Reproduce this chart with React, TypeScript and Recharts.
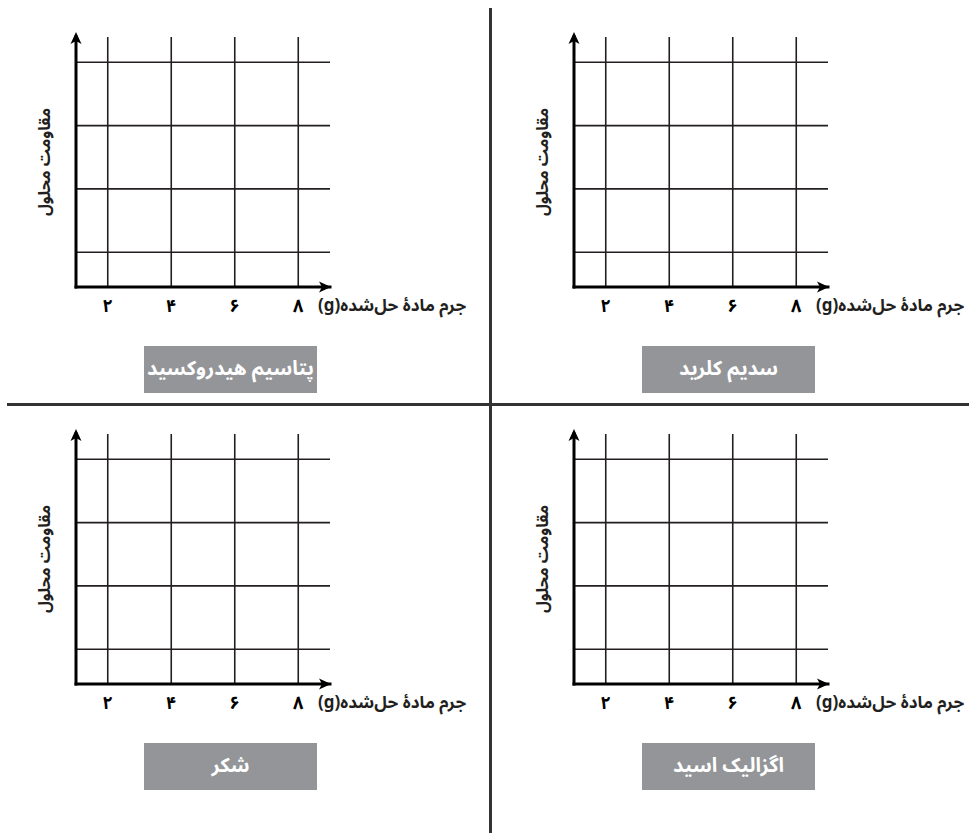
import React from 'react';
import { LineChart, Line, XAxis, YAxis, CartesianGrid, ReferenceDot, Label } from 'recharts';

// ---- data ----
const xTicks = [2, 4, 6, 8];
const yTicks = [1, 2, 3, 4];
const xDomain: [number, number] = [1, 9];
const yDomain: [number, number] = [0.45, 4.4];
const panelTitles = ['پتاسیم هیدروکسید', 'سدیم کلرید', 'شکر', 'اگزالیک اسید'];
const xAxisTitle = 'جرم مادهٔ حل\u200cشده(g)';
const yAxisTitle = 'مقاومت محلول';
const measuredPoints: { x: number; y: number }[] = [];
const persianDigits = '۰۱۲۳۴۵۶۷۸۹';

const toPersian = (v: number) =>
  String(v).replace(/[0-9]/g, (d) => persianDigits[Number(d)]);

const FONT = '"Noto Sans Arabic", "Noto Naskh Arabic", "DejaVu Sans", sans-serif';
const INK = '#231f20';

const EmptyTick = () => <g />;

const UpArrow = (props: any) => {
  const { cx, cy } = props;
  const tip = cy - 5;
  return (
    <path
      d={`M${cx},${tip} L${cx - 5.5},${tip + 12} L${cx},${tip + 9} L${cx + 5.5},${tip + 12} Z`}
      fill="#000"
    />
  );
};

const RightArrow = (props: any) => {
  const { cx, cy } = props;
  const tip = cx + 1;
  return (
    <path
      d={`M${tip},${cy} L${tip - 12},${cy - 5.5} L${tip - 9},${cy} L${tip - 12},${cy + 5.5} Z`}
      fill="#000"
    />
  );
};

const XTitle = (props: any) => {
  const vb = props.viewBox || {};
  return (
    <text
      x={vb.x + vb.width - 12}
      y={vb.y + 24}
      direction="rtl"
      textAnchor="end"
      fontFamily={FONT}
      fontWeight={700}
      fontSize={17}
      fill={INK}
    >
      {xAxisTitle}
    </text>
  );
};

const YTitle = (props: any) => {
  const vb = props.viewBox || {};
  const cx = vb.x + vb.width - 31;
  const cy = vb.y + vb.height / 2;
  return (
    <text
      x={cx}
      y={cy}
      transform={`rotate(-90, ${cx}, ${cy})`}
      direction="rtl"
      textAnchor="middle"
      dominantBaseline="central"
      fontFamily={FONT}
      fontWeight={700}
      fontSize={16}
      fill={INK}
    >
      {yAxisTitle}
    </text>
  );
};

const Panel = ({ title, ox, oy }: { title: string; ox: number; oy: number }) => (
  <div style={{ position: 'absolute', left: ox, top: oy, width: 490, height: 404 }}>
    <LineChart
      width={490}
      height={404}
      data={measuredPoints}
      margin={{ top: 37, right: 160, bottom: 87, left: 75 }}
    >
      <CartesianGrid
        stroke={INK}
        strokeWidth={1.6}
        fill="none"
        syncWithTicks
        horizontalValues={yTicks}
        verticalValues={xTicks}
      />
      <XAxis
        type="number"
        dataKey="x"
        domain={xDomain}
        ticks={xTicks}
        interval={0}
        allowDataOverflow
        height={30}
        tickLine={false}
        tickMargin={6}
        axisLine={{ stroke: '#000', strokeWidth: 3, strokeLinecap: 'square' }}
        tick={{ fill: '#000', fontSize: 18, fontWeight: 700, fontFamily: FONT }}
        tickFormatter={toPersian}
      >
        <Label content={XTitle} />
      </XAxis>
      <YAxis
        type="number"
        dataKey="y"
        domain={yDomain}
        ticks={yTicks}
        interval={0}
        allowDataOverflow
        width={1}
        tick={EmptyTick}
        tickLine={false}
        axisLine={{ stroke: '#000', strokeWidth: 3, strokeLinecap: 'square' }}
      >
        <Label content={YTitle} />
      </YAxis>
      <Line type="linear" dataKey="y" stroke={INK} isAnimationActive={false} />
      <ReferenceDot x={xDomain[0]} y={yDomain[1]} ifOverflow="visible" shape={UpArrow} />
      <ReferenceDot x={xDomain[1]} y={yDomain[0]} ifOverflow="visible" shape={RightArrow} />
    </LineChart>
    <div
      style={{
        position: 'absolute',
        left: 144,
        top: 346,
        width: 173,
        height: 47,
        background: '#939598',
        color: '#fff',
        fontFamily: FONT,
        fontWeight: 700,
        fontSize: 20,
        lineHeight: '47px',
        textAlign: 'center',
        direction: 'rtl',
        whiteSpace: 'nowrap',
      }}
    >
      {title}
    </div>
  </div>
);

const offsets = [
  [0, 0],
  [498, 0],
  [0, 397],
  [498, 397],
];

export default function App() {
  return (
    <div
      style={{
        position: 'fixed',
        left: 0,
        top: 0,
        width: 969,
        height: 833,
        background: '#fff',
        overflow: 'hidden',
      }}
    >
      {panelTitles.map((t, i) => (
        <Panel key={t} title={t} ox={offsets[i][0]} oy={offsets[i][1]} />
      ))}
      <div style={{ position: 'absolute', left: 489, top: 8, width: 2.5, height: 825, background: '#333' }} />
      <div style={{ position: 'absolute', left: 7, top: 403, width: 962, height: 2.5, background: '#333' }} />
    </div>
  );
}
